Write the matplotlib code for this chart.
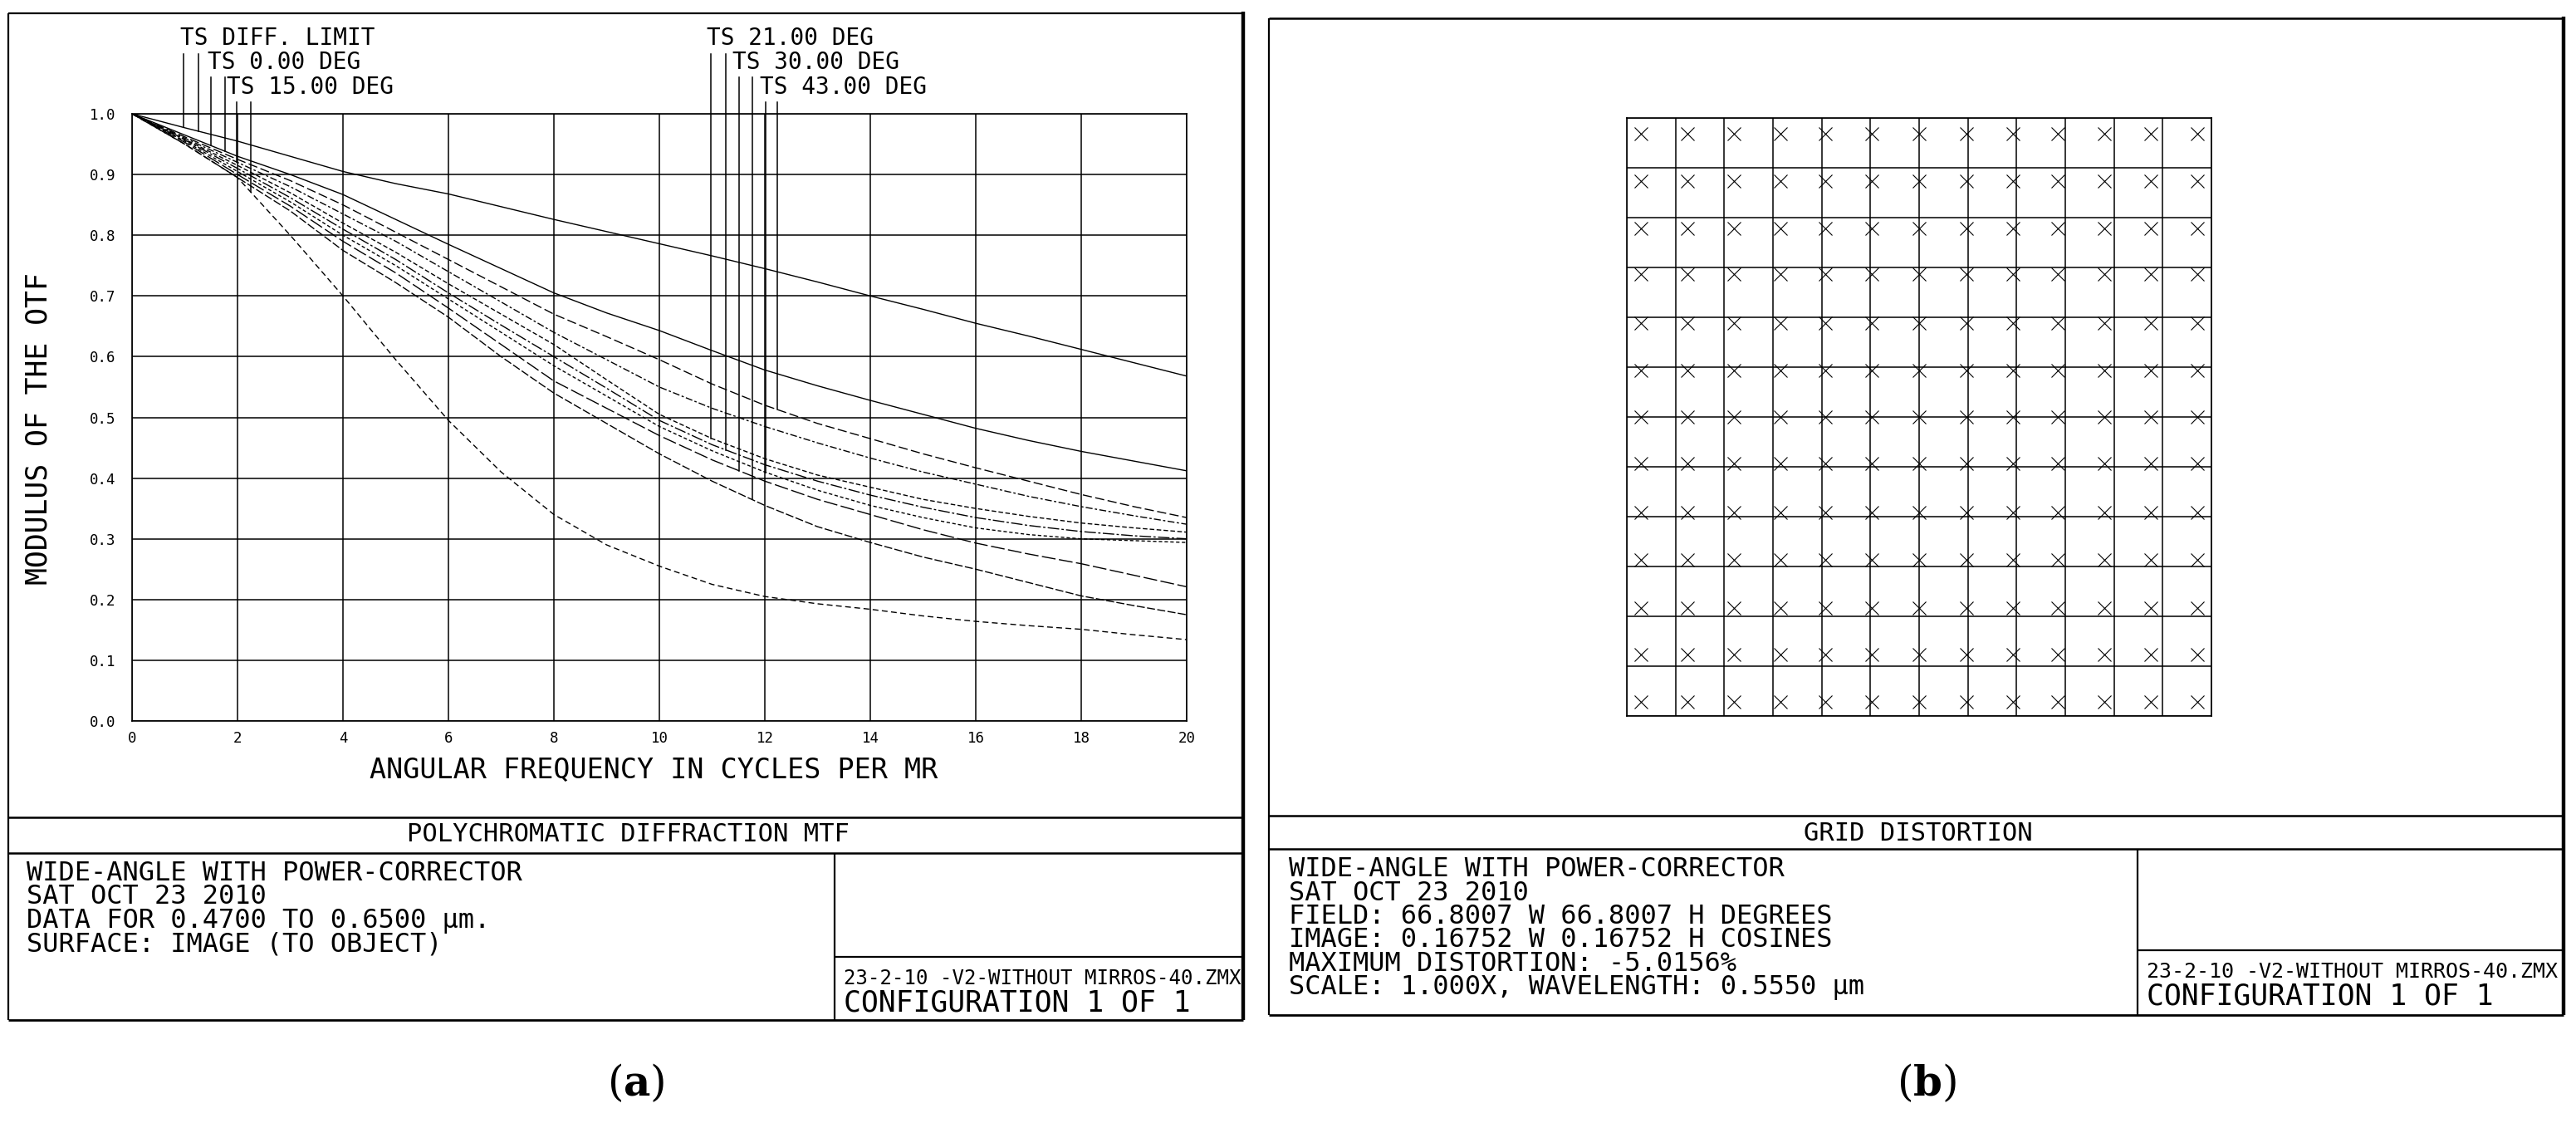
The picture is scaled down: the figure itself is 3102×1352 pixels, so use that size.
import numpy as np
import matplotlib
matplotlib.use("Agg")
import matplotlib.pyplot as plt

W, H = 3102, 1352
DPI = 100
MONO = "DejaVu Sans Mono"

# ---------------- MTF data (panel a) ----------------
freq = list(range(21))
mtf_diff = [1.000, .977, .955, .930, .905, .885, .868, .847, .826, .806, .786, .766, .745, .723, .700, .678, .655, .634, .612, .590, .568]
mtf_0 = [1.000, .965, .930, .900, .867, .826, .785, .745, .705, .672, .643, .610, .578, .552, .528, .505, .482, .462, .444, .428, .412]
mtf_43s = [1.000, .962, .925, .890, .850, .805, .760, .715, .670, .633, .595, .555, .520, .490, .465, .440, .417, .395, .373, .353, .335]
mtf_15t = [1.000, .960, .920, .880, .835, .790, .740, .690, .640, .595, .550, .515, .485, .458, .433, .410, .390, .370, .353, .338, .324]
mtf_21t = [1.000, .958, .915, .870, .820, .772, .720, .670, .620, .562, .505, .465, .432, .405, .385, .365, .350, .337, .326, .318, .311]
mtf_21s = [1.000, .957, .910, .862, .810, .760, .705, .652, .600, .548, .495, .455, .422, .395, .372, .352, .335, .322, .312, .305, .300]
mtf_43t = [1.000, .955, .905, .855, .800, .750, .695, .640, .585, .535, .485, .445, .410, .380, .355, .335, .318, .307, .300, .297, .294]
mtf_30t = [1.000, .953, .900, .848, .790, .738, .680, .620, .560, .515, .470, .430, .395, .365, .340, .315, .293, .275, .259, .240, .221]
mtf_30s = [1.000, .950, .895, .840, .775, .722, .665, .600, .540, .490, .440, .395, .355, .320, .294, .270, .250, .228, .206, .190, .175]
mtf_15s = [1.000, .950, .895, .800, .700, .595, .495, .410, .340, .290, .255, .225, .205, .193, .184, .173, .164, .157, .151, .142, .134]

ytick_vals = [0.0, 0.1, 0.2, 0.3, 0.4, 0.5, 0.6, 0.7, 0.8, 0.9, 1.0]
ytick_labels = ["0.0", "0.1", "0.2", "0.3", "0.4", "0.5", "0.6", "0.7", "0.8", "0.9", "1.0"]
xtick_vals = [0, 2, 4, 6, 8, 10, 12, 14, 16, 18, 20]
xtick_labels = ["0", "2", "4", "6", "8", "10", "12", "14", "16", "18", "20"]

field_labels_left = ["TS DIFF. LIMIT", "TS 0.00 DEG", "TS 15.00 DEG"]
field_labels_right = ["TS 21.00 DEG", "TS 30.00 DEG", "TS 43.00 DEG"]
leader_freq_left = [0.98, 1.26, 1.50, 1.76, 1.98, 2.25]
leader_freq_right = [10.98, 11.26, 11.51, 11.76, 12.02, 12.24]

# ---------------- Grid distortion data (panel b) ----------------
grid_lines = [-6, -5, -4, -3, -2, -1, 0, 1, 2, 3, 4, 5, 6]
mark_x = [-5.71, -4.76, -3.80, -2.84, -1.92, -0.97, 0.0, 0.97, 1.92, 2.84, 3.80, 4.76, 5.71]
mark_y = [5.69, 4.74, 3.79, 2.86, 1.89, 0.94, 0.0, -0.94, -1.91, -2.87, -3.83, -4.76, -5.71]

title_a = "POLYCHROMATIC DIFFRACTION MTF"
title_b = "GRID DISTORTION"
info_a = ["WIDE-ANGLE WITH POWER-CORRECTOR", "SAT OCT 23 2010",
          "DATA FOR 0.4700 TO 0.6500 \u00b5m.", "SURFACE: IMAGE (TO OBJECT)"]
info_b = ["WIDE-ANGLE WITH POWER-CORRECTOR", "SAT OCT 23 2010",
          "FIELD: 66.8007 W 66.8007 H DEGREES", "IMAGE: 0.16752 W 0.16752 H COSINES",
          "MAXIMUM DISTORTION: -5.0156%", "SCALE: 1.000X, WAVELENGTH: 0.5550 \u00b5m"]
file_name = "23-2-10 -V2-WITHOUT MIRROS-40.ZMX"
config_txt = "CONFIGURATION 1 OF 1"
panel_tags = ["a", "b"]

# ---------------- figure ----------------
fig = plt.figure(figsize=(W / DPI, H / DPI), dpi=DPI)
fig.patch.set_facecolor("white")


def axrect(l, t, r, b):
    return [l / W, 1 - b / H, (r - l) / W, (b - t) / H]


ov = fig.add_axes([0, 0, 1, 1], zorder=0)
ov.set_xlim(0, W)
ov.set_ylim(H, 0)
ov.axis("off")


def hline(y, x0, x1, lw=1.6):
    ov.plot([x0, x1], [y, y], color="k", lw=lw, solid_capstyle="butt")


def vline(x, y0, y1, lw=1.6):
    ov.plot([x, x], [y0, y1], color="k", lw=lw, solid_capstyle="butt")


# Panel a frames
hline(16, 10, 1497, 1.6)
vline(10, 16, 1228, 1.6)
vline(1497, 14, 1228, 3.2)
hline(1228, 10, 1497, 2.0)
hline(984, 10, 1497, 1.8)
hline(1027, 10, 1497, 1.8)
vline(1005, 1027, 1228, 1.6)
hline(1152, 1005, 1497, 1.6)

# Panel b frames
hline(22, 1528, 3087, 1.8)
vline(1528, 22, 1222, 1.6)
vline(3087, 20, 1222, 3.2)
hline(1222, 1528, 3087, 2.0)
hline(982, 1528, 3087, 1.8)
hline(1022, 1528, 3087, 1.8)
vline(2574, 1022, 1222, 1.6)
hline(1144, 2574, 3087, 1.6)

# ---------------- MTF axes ----------------
AX_L, AX_T, AX_R, AX_B = 159, 137, 1429, 868
ax = fig.add_axes(axrect(AX_L, AX_T, AX_R, AX_B), zorder=2)
ax.set_xlim(0, 20)
ax.set_ylim(0, 1.0)
ax.set_xticks(xtick_vals)
ax.set_xticklabels(xtick_labels, fontfamily=MONO)
ax.set_yticks(ytick_vals)
ax.set_yticklabels(ytick_labels, fontfamily=MONO)
ax.tick_params(length=0, labelsize=12.5)
ax.tick_params(axis="y", pad=14)
ax.tick_params(axis="x", pad=9)
ax.grid(True, color="k", lw=1.1)
ax.set_axisbelow(True)
for s in ax.spines.values():
    s.set_linewidth(1.2)

curves = [
    (mtf_diff, "-"),
    (mtf_0, "-"),
    (mtf_43s, (0, (8, 3))),
    (mtf_15t, (0, (6, 2, 2, 2))),
    (mtf_21t, (0, (4, 2))),
    (mtf_21s, (0, (10, 2, 2, 2))),
    (mtf_43t, (0, (3, 2))),
    (mtf_30t, (0, (12, 3))),
    (mtf_30s, (0, (7, 2))),
    (mtf_15s, (0, (5, 3))),
]
for vals, ls in curves:
    ax.plot(freq, vals, color="k", lw=1.0, ls=ls)

ax.set_xlabel("ANGULAR FREQUENCY IN CYCLES PER MR", fontfamily=MONO, fontsize=24)
ax.set_ylabel("MODULUS OF THE OTF", fontfamily=MONO, fontsize=25)
ax.xaxis.set_label_coords((787 - AX_L) / (AX_R - AX_L), (AX_B - 911) / (AX_B - AX_T))
ax.yaxis.set_label_coords((64 - AX_L) / (AX_R - AX_L), (AX_B - 516) / (AX_B - AX_T))


def py_to_data(ypx):
    return (AX_B - ypx) / (AX_B - AX_T)


leader_left_curves = [mtf_diff, mtf_diff, mtf_0, mtf_0, mtf_15t, mtf_15s]
leader_right_curves = [mtf_21t, mtf_21s, mtf_30t, mtf_30s, mtf_43t, mtf_43s]
row_top_px = [65, 65, 93, 93, 123, 123]
for fx_list, clist in ((leader_freq_left, leader_left_curves), (leader_freq_right, leader_right_curves)):
    for i, (fx, cv) in enumerate(zip(fx_list, clist)):
        yend = float(np.interp(fx, freq, cv))
        ax.plot([fx, fx], [py_to_data(row_top_px[i]), yend], color="k", lw=1.1, clip_on=False)

label_pos_left = [(217, 54), (250, 83), (273, 113)]
label_pos_right = [(851, 54), (882, 83), (915, 113)]
for txt, (x, y) in zip(field_labels_left, label_pos_left):
    ov.text(x, y, txt, fontfamily=MONO, fontsize=20, ha="left", va="baseline")
for txt, (x, y) in zip(field_labels_right, label_pos_right):
    ov.text(x, y, txt, fontfamily=MONO, fontsize=20, ha="left", va="baseline")

# ---------------- Grid distortion axes ----------------
gx = fig.add_axes(axrect(1959, 142, 2663, 862), zorder=2)
gx.set_xlim(-6, 6)
gx.set_ylim(-6, 6)
gx.set_xticks(grid_lines)
gx.set_yticks(grid_lines)
gx.tick_params(length=0, labelbottom=False, labelleft=False)
gx.grid(True, color="k", lw=1.1)
for s in gx.spines.values():
    s.set_linewidth(1.2)
MX, MY = np.meshgrid(mark_x, mark_y)
gx.plot(MX.ravel(), MY.ravel(), ls="none", marker="x", ms=11, mew=0.8, color="k", clip_on=False)

# ---------------- Text boxes ----------------
ov.text(756, 1013, title_a, fontfamily=MONO, fontsize=22, ha="center", va="baseline")
for i, t in enumerate(info_a):
    ov.text(32, 1060 + 28.5 * i, t, fontfamily=MONO, fontsize=23, ha="left", va="baseline")
ov.text(1016, 1185, file_name, fontfamily=MONO, fontsize=17.3, ha="left", va="baseline")
ov.text(1016, 1217, config_txt, fontfamily=MONO, fontsize=25, ha="left", va="baseline")

ov.text(2310, 1012, title_b, fontfamily=MONO, fontsize=22, ha="center", va="baseline")
for i, t in enumerate(info_b):
    ov.text(1552, 1055 + 28.5 * i, t, fontfamily=MONO, fontsize=23, ha="left", va="baseline")
ov.text(2585, 1177, file_name, fontfamily=MONO, fontsize=18, ha="left", va="baseline")
ov.text(2585, 1210, config_txt, fontfamily=MONO, fontsize=25, ha="left", va="baseline")

# Sub-figure labels "(a)" and "(b)"
for x, lab in zip((766, 2320), panel_tags):
    ov.text(x, 1305, "(" + r"$\mathbf{" + lab + "}$" + ")", fontfamily="DejaVu Serif",
            fontsize=36, ha="center", va="center", math_fontfamily="dejavuserif")

fig.savefig("out.png", dpi=DPI, facecolor="white")
